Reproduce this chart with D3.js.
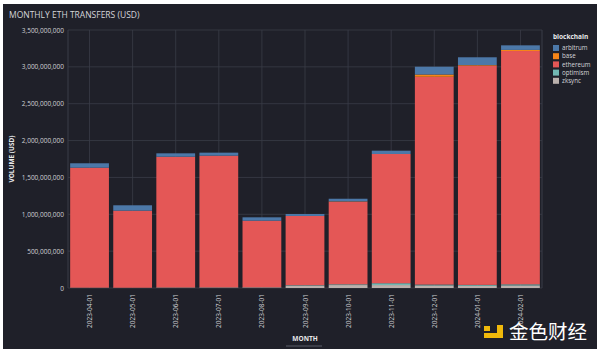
<!DOCTYPE html>
<html><head><meta charset="utf-8">
<script src="https://cdn.jsdelivr.net/npm/d3@7"></script>
<style>body{margin:0;background:#fff;}svg{display:block;}</style>
</head><body>
<svg id="c" width="600" height="357"></svg>
<script>
const months = ["2023-04-01","2023-05-01","2023-06-01","2023-07-01","2023-08-01","2023-09-01","2023-10-01","2023-11-01","2023-12-01","2024-01-01","2024-02-01"];
const chains = ["arbitrum","base","ethereum","optimism","zksync"];
const colors = ["#4c78a8","#f58518","#e45756","#72b7b2","#bab0ac"];
// values in millions USD
const arbitrum = [60,73,46,41,46,27,36,45,106,106,62];
const base     = [0,0,0,0,0,0,4,0,30,8,15];
const ethereum = [1627,1045,1774,1787,904,939,1121,1753,2819,2974,3165];
const optimism = [2,2,3,3,3,8,10,25,12,12,15];
const zksync   = [3,2,4,5,6,30,40,40,35,30,35];
const yTicks = [0,500e6,1000e6,1500e6,2000e6,2500e6,3000e6,3500e6];

const series = {arbitrum, base, ethereum, optimism, zksync};
const rows = months.map((m,i)=>{const r={month:m}; chains.forEach(c=>r[c]=series[c][i]*1e6); return r;});
const stackOrder = ["zksync","optimism","ethereum","base","arbitrum"];
const stacked = d3.stack().keys(stackOrder)(rows);
const color = d3.scaleOrdinal().domain(chains).range(colors);

const svg = d3.select("#c");
svg.append("rect").attr("x",3).attr("y",4).attr("width",594).attr("height",345).attr("fill","#1f2029");

const L=68,R=542,T=30,B=288;
const x = d3.scaleBand().domain(months).range([L,R]).paddingInner(0.1).paddingOuter(0.05);
const y = d3.scaleLinear().domain([0,3.5e9]).range([B,T]);

// grid
const g = svg.append("g");
g.selectAll(".hg").data(yTicks).join("line").attr("x1",L).attr("x2",R)
  .attr("y1",d=>y(d)).attr("y2",d=>y(d)).attr("stroke","#3a3c48").attr("stroke-width",0.8);
g.selectAll(".vg").data(months).join("line").attr("y1",T).attr("y2",B)
  .attr("x1",d=>x(d)+x.bandwidth()/2).attr("x2",d=>x(d)+x.bandwidth()/2).attr("stroke","#3a3c48").attr("stroke-width",0.8);
g.append("line").attr("x1",L).attr("x2",L).attr("y1",T).attr("y2",B).attr("stroke","#3a3c48");
g.append("line").attr("x1",R).attr("x2",R).attr("y1",T).attr("y2",B).attr("stroke","#3a3c48");

// bars
svg.append("g").selectAll("g").data(stacked).join("g").attr("fill",d=>color(d.key))
  .selectAll("rect").data(d=>d).join("rect")
  .attr("x",d=>x(d.data.month)).attr("width",x.bandwidth())
  .attr("y",d=>y(d[1])).attr("height",d=>Math.max(0,y(d[0])-y(d[1])));

// axes
const fmt = d3.format(",");
const ya = svg.append("g").attr("transform",`translate(${L},0)`)
  .call(d3.axisLeft(y).tickValues(yTicks).tickFormat(d=>fmt(d)).tickSize(0).tickPadding(4));
ya.select(".domain").remove();
ya.selectAll("text").attr("fill","#cfd0d4").style("font-family","Open Sans, sans-serif").style("font-size","6.5px");

const xa = svg.append("g").attr("transform",`translate(0,${B})`)
  .call(d3.axisBottom(x).tickSize(0).tickPadding(0));
xa.select(".domain").remove();
xa.selectAll("text").attr("fill","#cfd0d4").style("font-family","Open Sans, sans-serif").style("font-size","6.5px")
  .attr("text-anchor","end").attr("dy",null).attr("y",0)
  .attr("transform","translate(2.5,6) rotate(-90)");

// titles
svg.append("text").attr("x",9).attr("y",18).text("MONTHLY ETH TRANSFERS (USD)")
  .attr("fill","#d4d5d9").style("font-family","Open Sans, sans-serif").style("font-size","8.5px");
svg.append("text").attr("transform","translate(14,159) rotate(-90)").attr("text-anchor","middle")
  .text("VOLUME (USD)").attr("fill","#e8e8ea").style("font-family","Open Sans, sans-serif").style("font-size","6.5px").style("font-weight","bold");
svg.append("text").attr("x",305).attr("y",341).attr("text-anchor","middle").text("MONTH")
  .attr("fill","#e8e8ea").style("font-family","Open Sans, sans-serif").style("font-size","6.5px").style("font-weight","bold");
svg.append("line").attr("x1",286).attr("x2",322).attr("y1",346).attr("y2",346).attr("stroke","#5a5c68").attr("stroke-width",1);

// legend
const lg = svg.append("g").attr("transform","translate(553,0)");
lg.append("text").attr("x",0).attr("y",39).text("blockchain").attr("fill","#e8e8ea")
  .style("font-family","Open Sans, sans-serif").style("font-size","6.5px").style("font-weight","bold");
const li = lg.selectAll(".li").data(chains).join("g").attr("transform",(d,i)=>`translate(0,${45+i*8.2})`);
li.append("rect").attr("width",6).attr("height",6).attr("fill",d=>color(d));
li.append("text").attr("x",9).attr("y",5.2).text(d=>d).attr("fill","#d4d5d9")
  .style("font-family","Open Sans, sans-serif").style("font-size","6.2px");

// watermark
const wm = svg.append("g");
wm.append("rect").attr("x",484).attr("y",333).attr("width",19).attr("height",5).attr("fill","#f0b90b");
wm.append("rect").attr("x",497).attr("y",325).attr("width",6).attr("height",13).attr("fill","#f0b90b");
wm.append("rect").attr("x",484).attr("y",326).attr("width",6).attr("height",5).attr("fill","#f0b90b");
wm.append("text").attr("x",509).attr("y",339).text("金色财经").attr("fill","#ffffff")
  .style("font-family","Noto Sans CJK SC, sans-serif").style("font-size","19.5px");
</script>
</body></html>
